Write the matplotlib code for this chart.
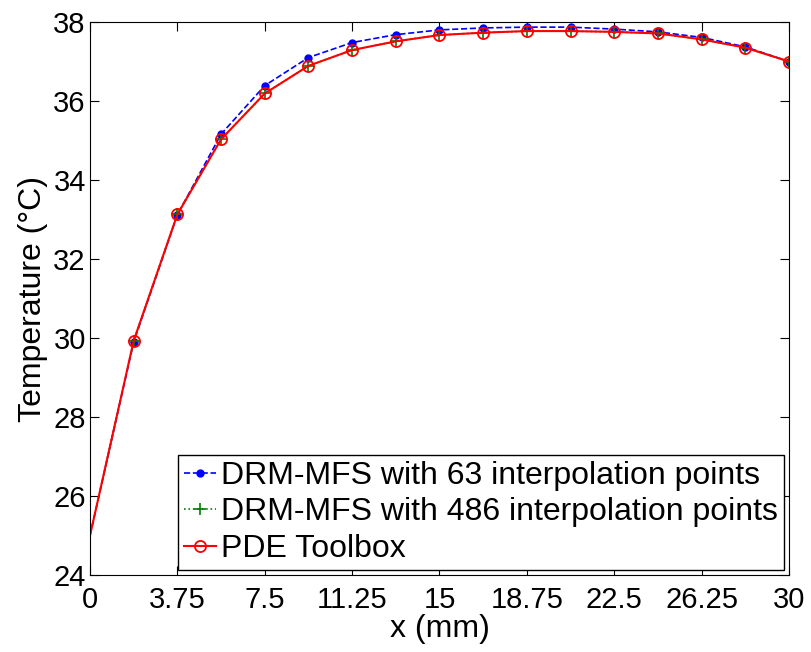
import numpy as np
import matplotlib
matplotlib.use("Agg")
import matplotlib.pyplot as plt

plt.rcParams['font.family'] = ['Liberation Sans', 'DejaVu Sans']

x_mm = [0, 1.875, 3.75, 5.625, 7.5, 9.375, 11.25, 13.125, 15, 16.875,
        18.75, 20.625, 22.5, 24.375, 26.25, 28.125, 30]
t_63 = [25.0, 29.90, 33.12, 35.16, 36.39, 37.10, 37.48, 37.68, 37.80, 37.85,
        37.87, 37.87, 37.82, 37.75, 37.61, 37.37, 37.0]
t_486 = [25.0, 29.93, 33.13, 35.03, 36.19, 36.89, 37.29, 37.51, 37.67, 37.73,
         37.77, 37.77, 37.75, 37.71, 37.56, 37.35, 37.0]
t_pde = [25.0, 29.93, 33.13, 35.03, 36.19, 36.89, 37.29, 37.51, 37.67, 37.73,
         37.77, 37.77, 37.75, 37.71, 37.56, 37.35, 37.0]

xticks = [0, 3.75, 7.5, 11.25, 15, 18.75, 22.5, 26.25, 30]
xticklabels = ['0', '3.75', '7.5', '11.25', '15', '18.75', '22.5', '26.25', '30']
yticks = [24, 26, 28, 30, 32, 34, 36, 38]

fig = plt.figure(figsize=(8.12, 6.52), dpi=100)
ax = fig.add_axes([90 / 812, 1 - 575 / 652, 699 / 812, 553 / 652])

mk = list(range(1, len(x_mm)))
ax.plot(x_mm, t_63, '--', color='blue', marker='o', markersize=5,
        markevery=mk, lw=1.2, label='DRM-MFS with 63 interpolation points')
ax.plot(x_mm, t_486, ':', color='green', marker='+', markersize=8,
        markevery=mk, lw=1.2, mew=1.2, label='DRM-MFS with 486 interpolation points')
ax.plot(x_mm, t_pde, '-', color='red', marker='o', markersize=8,
        markerfacecolor='none', markevery=mk, lw=1.5, mew=1.3, label='PDE Toolbox')

ax.set_xlim(0, 30)
ax.set_ylim(24, 38)
ax.set_xticks(xticks)
ax.set_xticklabels(xticklabels)
ax.set_yticks(yticks)
ax.tick_params(direction='in', top=True, right=True, labelsize=21, length=6.5)
ax.tick_params(axis='x', pad=8)
ax.tick_params(axis='y', pad=3)
ax.set_xlabel('x (mm)', fontsize=23, labelpad=0)
ax.set_ylabel('Temperature (\u00b0C)', fontsize=23, labelpad=4)

leg = ax.legend(loc='lower right', fontsize=23, frameon=True, fancybox=False,
                edgecolor='black', framealpha=1, handlelength=1.0,
                handletextpad=0.15, borderpad=0.2, labelspacing=0.2,
                borderaxespad=0.15)
leg.get_frame().set_linewidth(1.0)

fig.savefig('out.png', dpi=100)
